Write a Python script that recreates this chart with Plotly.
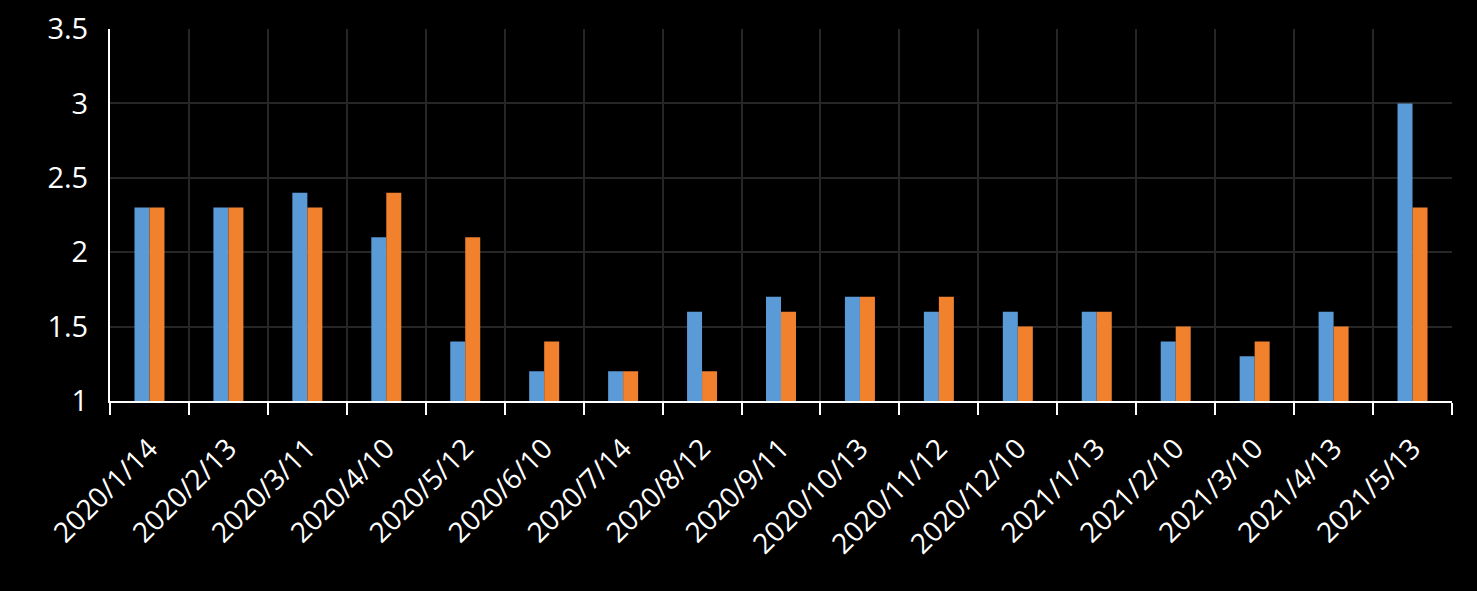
import plotly.graph_objects as go

dates = ["2020/1/14", "2020/2/13", "2020/3/11", "2020/4/10", "2020/5/12", "2020/6/10",
         "2020/7/14", "2020/8/12", "2020/9/11", "2020/10/13", "2020/11/12", "2020/12/10",
         "2021/1/13", "2021/2/10", "2021/3/10", "2021/4/13", "2021/5/13"]
series_a = [2.3, 2.3, 2.4, 2.1, 1.4, 1.2, 1.2, 1.6, 1.7, 1.7, 1.6, 1.6, 1.6, 1.4, 1.3, 1.6, 3.0]
series_b = [2.3, 2.3, 2.3, 2.4, 2.1, 1.4, 1.2, 1.2, 1.6, 1.7, 1.7, 1.5, 1.6, 1.5, 1.4, 1.5, 2.3]

fig = go.Figure()
fig.add_bar(x=dates, y=series_a, name="A", marker=dict(color="#5A9AD6", line=dict(width=0)))
fig.add_bar(x=dates, y=series_b, name="B", marker=dict(color="#F2812E", line=dict(width=0)))

font_family = "Open Sans, Noto Sans, sans-serif"
fig.update_layout(
    width=1477, height=591,
    margin=dict(l=110, r=25, t=29, b=190, autoexpand=False),
    paper_bgcolor="black", plot_bgcolor="black",
    showlegend=False,
    barmode="group", bargap=0.62, bargroupgap=0,
    font=dict(family=font_family, color="white"),
)
fig.update_xaxes(
    type="category", tickson="boundaries", ticks="outside", ticklen=12, tickwidth=2,
    tickcolor="white", showline=True, linecolor="white", linewidth=2,
    showgrid=True, gridcolor="#262626", gridwidth=2,
    tickangle=-45, tickfont=dict(size=28, color="white"),
    ticklabelstandoff=18, automargin=False,
    mirror=False,
)
fig.update_yaxes(
    range=[1, 3.5], dtick=0.5, showline=True, linecolor="white", linewidth=2,
    showgrid=True, gridcolor="#262626", gridwidth=2, zeroline=False,
    ticks="", ticklabelstandoff=14, tickfont=dict(size=29, color="white"),
    automargin=False,
)
fig.write_html("out.html")
